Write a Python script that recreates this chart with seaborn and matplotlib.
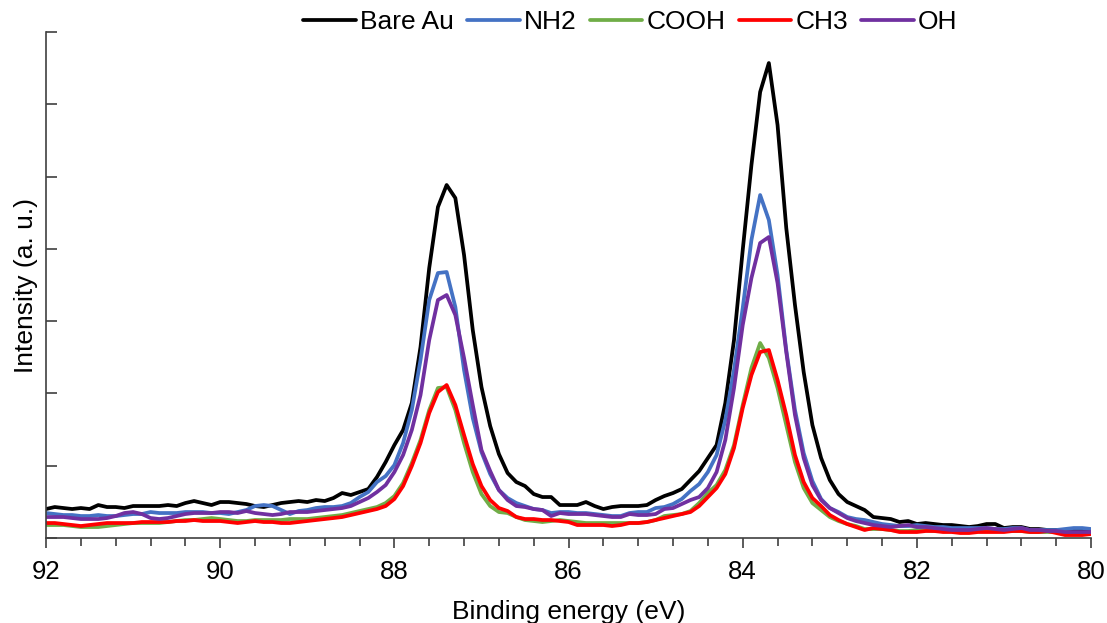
import numpy as np
import pandas as pd
import matplotlib
matplotlib.use("Agg")
import matplotlib.pyplot as plt
import seaborn as sns
from matplotlib.ticker import MultipleLocator

# Binding energy axis, 92 -> 80 eV in 0.1 eV steps
energy = np.round(np.arange(92.0, 79.95, -0.1), 1)

# Intensity (a.u.)
bare_au = [
    29, 31, 30, 29, 30, 29, 33, 31, 31, 30,
    32, 32, 32, 32, 33, 32, 35, 37, 35, 33,
    36, 36, 35, 34, 32, 31, 33, 35, 36, 37,
    36, 38, 37, 40, 45, 43, 46, 49,
    61, 76, 93, 108, 135, 191, 270, 331, 353, 340,
    283, 208, 151, 112, 84, 65, 56, 52, 44, 41,
    41, 33, 33, 33, 36, 32, 29, 31, 32, 32, 32, 33, 38, 42, 45, 49, 58, 67,
    80, 93, 135, 198, 288, 373, 446, 475, 413, 310, 233, 166, 113, 80, 58, 44, 36, 32,
    28, 21, 20, 19, 16, 17, 14, 15, 14, 13, 13, 12, 11, 12, 14, 14, 10, 11, 11, 9,
    9, 8, 8, 8, 7, 7, 7,
]
nh2 = [
    25, 24, 23, 23, 22, 22, 23, 22, 22, 23,
    24, 24, 26, 25, 25, 25, 26, 26, 26, 25,
    25, 24, 26, 28, 32, 33, 32, 28, 24, 27,
    28, 30, 31, 31, 32, 35, 41, 46,
    56, 62, 73, 95, 128, 178, 238, 265, 266, 231,
    168, 120, 86, 64, 48, 40, 35, 32, 29, 28,
    25, 26, 26, 25, 25, 24, 23, 22, 22, 25, 26, 26, 30, 31, 34, 39, 47, 54,
    66, 83, 118, 168, 230, 298, 343, 318, 263, 188, 128, 85, 57, 39, 30, 26, 21, 19,
    18, 16, 14, 13, 12, 12, 13, 12, 11, 11, 10, 10, 10, 10, 10, 9, 9, 10, 10, 8,
    8, 8, 8, 9, 10, 10, 9,
]
cooh = [
    13, 13, 13, 12, 11, 11, 11, 12, 13, 14,
    15, 15, 15, 15, 16, 17, 18, 18, 19, 20,
    19, 18, 17, 17, 18, 18, 18, 18, 19, 19,
    19, 20, 21, 22, 23, 25, 27, 29,
    31, 35, 42, 55, 75, 98, 128, 150, 151, 128,
    95, 66, 44, 32, 26, 25, 21, 18, 17, 16,
    17, 18, 17, 16, 15, 15, 15, 15, 15, 15, 15, 16, 18, 22, 23, 24, 27, 35,
    45, 53, 68, 93, 133, 170, 195, 180, 150, 113, 76, 50, 35, 28, 21, 17, 14, 12,
    9, 9, 9, 8, 7, 7, 8, 8, 7, 7, 7, 6, 6, 7, 7, 8, 7, 7, 7, 6,
    6, 6, 6, 6, 5, 5, 5,
]
ch3 = [
    15, 15, 14, 13, 12, 13, 14, 15, 15, 15,
    15, 16, 16, 16, 16, 17, 17, 18, 17, 17,
    17, 16, 15, 16, 17, 16, 16, 15, 15, 16,
    17, 18, 19, 20, 21, 23, 25, 27,
    29, 32, 39, 52, 72, 95, 125, 146, 153, 133,
    103, 74, 52, 38, 30, 27, 21, 19, 19, 18,
    18, 17, 16, 13, 13, 13, 13, 12, 13, 15, 15, 16, 18, 20, 22, 24, 26, 32,
    41, 50, 64, 90, 130, 163, 186, 188, 158, 123, 83, 56, 40, 32, 23, 18, 14, 11,
    8, 10, 9, 8, 6, 6, 6, 7, 7, 6, 6, 5, 5, 6, 6, 6, 6, 7, 7, 6,
    6, 7, 5, 3, 3, 3, 4,
]
oh = [
    21, 21, 21, 20, 19, 19, 19, 20, 22, 25,
    26, 24, 20, 19, 20, 22, 24, 25, 25, 25,
    26, 26, 25, 27, 25, 24, 23, 24, 26, 26,
    26, 27, 28, 29, 30, 32, 36, 40,
    46, 53, 66, 83, 108, 143, 198, 238, 243, 223,
    180, 133, 88, 67, 48, 38, 32, 31, 29, 28,
    22, 25, 24, 24, 24, 23, 22, 21, 21, 24, 23, 23, 24, 29, 30, 34, 38, 41,
    50, 66, 98, 150, 213, 260, 295, 301, 255, 186, 123, 80, 53, 38, 30, 25, 20, 17,
    15, 13, 12, 11, 12, 13, 11, 11, 10, 9, 8, 8, 8, 9, 10, 9, 8, 9, 10, 8,
    8, 7, 7, 6, 6, 6, 6,
]

labels = ["Bare Au", "NH2", "COOH", "CH3", "OH"]
colors = ["#000000", "#4472C4", "#70AD47", "#FF0000", "#7030A0"]

series = [bare_au, nh2, cooh, ch3, oh]
df = pd.concat(
    [pd.DataFrame({"energy": energy, "intensity": s, "sample": lab}) for s, lab in zip(series, labels)],
    ignore_index=True,
)

sns.set_style("ticks")
plt.rcParams["font.family"] = ["Liberation Sans", "DejaVu Sans"]
plt.rcParams["text.color"] = "black"
plt.rcParams["axes.labelcolor"] = "black"
plt.rcParams["xtick.labelcolor"] = "black"

fig = plt.figure(figsize=(11.07, 6.23), dpi=100)
ax = fig.add_axes([0.0416, 0.1364, 0.9440, 0.8122])

sns.lineplot(data=df, x="energy", y="intensity", hue="sample", hue_order=labels,
             palette=colors, linewidth=2.7, estimator=None, ax=ax)

ax.set_xlim(92, 80)
ax.set_ylim(0, 506)
ax.xaxis.set_major_locator(MultipleLocator(2))
ax.xaxis.set_minor_locator(MultipleLocator(0.4))
ax.set_yticks(np.linspace(0, 506, 8))
ax.set_yticklabels([])
ax.tick_params(axis="x", which="major", direction="out", length=7, width=1.2,
               color="#404040", labelsize=18.5, labelcolor="black", pad=9)
ax.tick_params(axis="x", which="minor", direction="out", length=6, width=1.2, color="#404040")
ax.tick_params(axis="y", direction="in", length=8, width=1.2, color="#404040")

for side in ["top", "right"]:
    ax.spines[side].set_visible(False)
for side in ["left", "bottom"]:
    ax.spines[side].set_color("#404040")
    ax.spines[side].set_linewidth(1.2)

ax.set_xlabel("Binding energy (eV)", fontsize=19, labelpad=11, color="black")
ax.set_ylabel("Intensity (a. u.)", fontsize=19, labelpad=2, color="black")

handles, _ = ax.get_legend_handles_labels()
leg = ax.legend(handles=handles, labels=labels, loc="center", bbox_to_anchor=(0.559, 1.02),
                ncol=5, frameon=False, fontsize=19, handlelength=2.0, handletextpad=0.15,
                columnspacing=0.5, borderaxespad=0)
for t in leg.get_texts():
    t.set_color("black")

fig.savefig("out.png", dpi=100)
